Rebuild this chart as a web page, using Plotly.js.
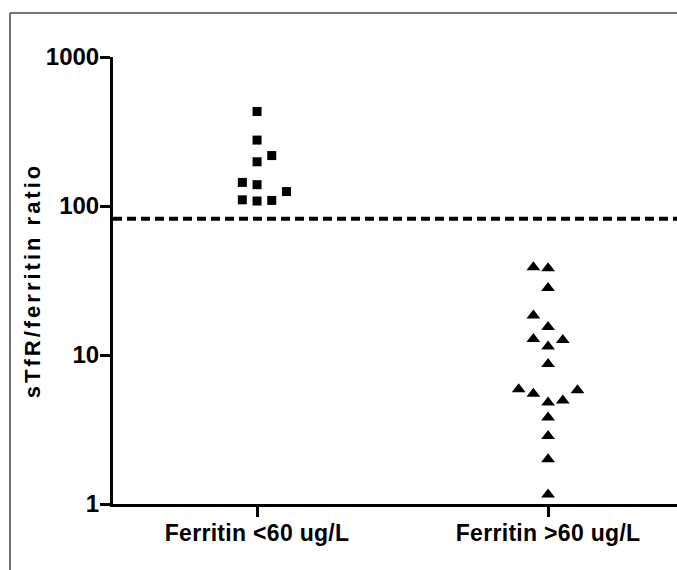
<!DOCTYPE html>
<html>
<head>
<meta charset="utf-8">
<script src="https://cdn.plot.ly/plotly-3.0.1.min.js"></script>
<style>
  html, body { margin: 0; padding: 0; background: #fff; }
  #chart { width: 677px; height: 570px; }
  #chart .ytitle { letter-spacing: 3px; }
  #chart .xtick text { letter-spacing: 0.3px; }
</style>
</head>
<body>
<div id="chart"></div>
<script>
// ---- data ----
const categories = ["Ferritin <60 ug/L", "Ferritin >60 ug/L"];
const lowRatio  = [431, 277, 218, 198, 144, 139, 125, 110, 108, 109];
const lowColumn = [0, 0, 1, 0, -1, 0, 2, -1, 0, 1];
const highRatio  = [38.8, 38.2, 28.2, 18.4, 15.4, 12.8, 12.6, 11.4, 8.7, 5.9, 5.5, 5.8, 4.8, 4.95, 3.8, 2.86, 2.0, 1.16];
const highColumn = [-1, 0, 0, -1, 0, -1, 1, 0, 0, -2, -1, 2, 0, 1, 0, 0, 0, 0];
const cutoff = 82;
const yTickVals = [1, 10, 100, 1000];
const yTickText = ["1", "10", "100", "1000"];
const yTitle = "sTfR/ferritin ratio";

// ---- drawing ----
const step = 0.0505;
const FONT = "Liberation Sans, Arial, Helvetica, sans-serif";

const traces = [
  {
    type: "scatter", mode: "markers",
    x: lowColumn.map(c => 0 + c * step), y: lowRatio,
    marker: { symbol: "square", size: 9, color: "#000" },
    cliponaxis: false, hoverinfo: "y"
  },
  {
    type: "scatter", mode: "markers",
    x: highColumn.map(c => 1 + c * step), y: highRatio,
    marker: { symbol: "triangle-up", size: 12, color: "#000" },
    cliponaxis: false, hoverinfo: "y"
  }
];

const layout = {
  width: 677, height: 570,
  margin: { l: 113, r: 0, t: 57, b: 66 },
  paper_bgcolor: "#fff", plot_bgcolor: "#fff",
  showlegend: false,
  xaxis: {
    range: [-0.495, 1.443],
    tickvals: [0, 1], ticktext: categories,
    showline: true, linewidth: 3, linecolor: "#000",
    ticks: "outside", ticklen: 10, tickwidth: 3, tickcolor: "#000",
    ticklabelstandoff: -4,
    showgrid: false, zeroline: false,
    tickfont: { family: FONT, size: 23, color: "#000", weight: "bold" },
    fixedrange: true
  },
  yaxis: {
    type: "log", range: [0, 3],
    tickvals: yTickVals, ticktext: yTickText,
    showline: true, linewidth: 3, linecolor: "#000",
    ticks: "outside", ticklen: 10, tickwidth: 3, tickcolor: "#000",
    ticklabelstandoff: -4,
    showgrid: false, zeroline: false,
    tickfont: { family: FONT, size: 24, color: "#000", weight: "bold" },
    title: { text: yTitle, font: { family: FONT, size: 22, color: "#000", weight: "bold" }, standoff: 0 },
    fixedrange: true
  },
  shapes: [
    { type: "line", xref: "paper", yref: "y", x0: 0, x1: 1, y0: cutoff, y1: cutoff,
      line: { color: "#000", width: 4, dash: "9px,5px" } },
    { type: "line", xref: "paper", yref: "paper", x0: -0.1826, x1: -0.1826, y0: 1.0984, y1: -0.2,
      line: { color: "#444", width: 1.5 } },
    { type: "line", xref: "paper", yref: "paper", x0: -0.1826, x1: 1.05, y0: 1.0984, y1: 1.0984,
      line: { color: "#444", width: 1.5 } }
  ]
};

Plotly.newPlot("chart", traces, layout, { displayModeBar: false, staticPlot: true });
</script>
</body>
</html>
